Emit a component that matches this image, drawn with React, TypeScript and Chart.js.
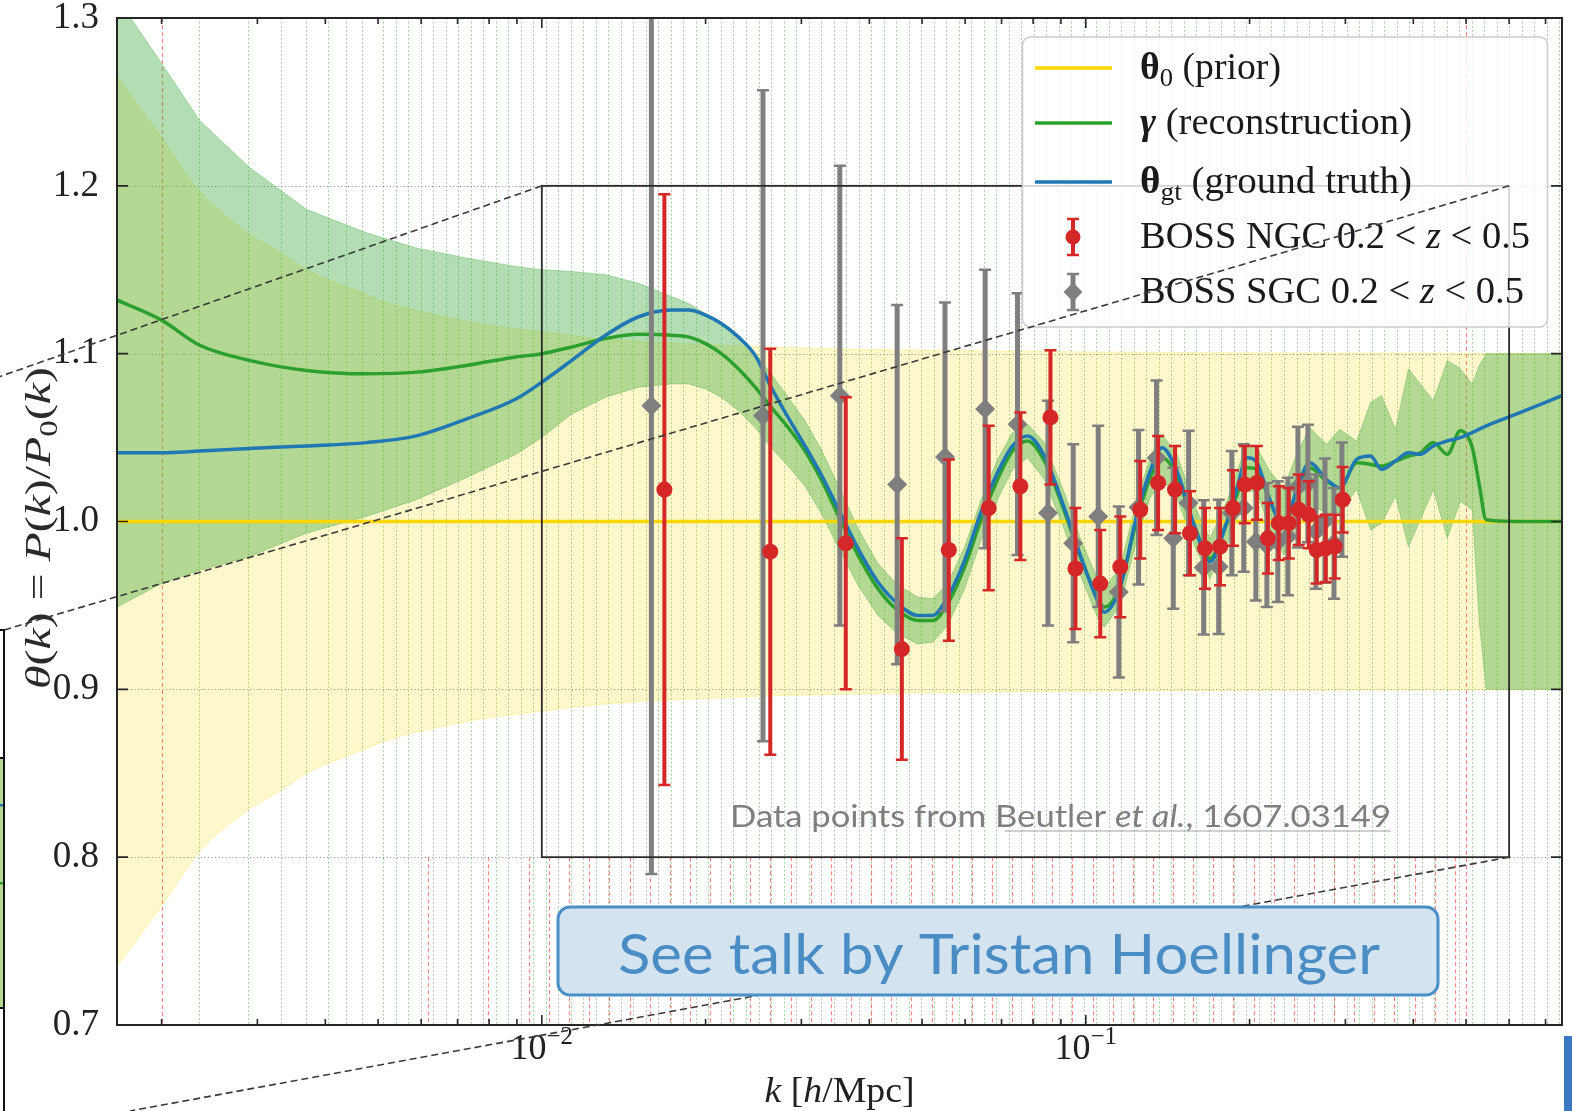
import React, { useEffect, useRef } from 'react';
import { Chart, registerables } from 'chart.js';

Chart.register(...registerables);

// ---------------- data ----------------
const kRange = [0.001656, 0.7505];
const yRange = [0.7, 1.3];
const yTicks = [0.7, 0.8, 0.9, 1.0, 1.1, 1.2, 1.3];
const yGrid = [0.8, 0.9, 1.0, 1.1, 1.2];
const xMajorTicks = [0.01, 0.1];
const xMajorExp = ['\u22122', '\u22121'];
const xMinorTicks = [0.002, 0.003, 0.004, 0.005, 0.006, 0.007, 0.008, 0.009, 0.02, 0.03, 0.04, 0.05, 0.06, 0.07, 0.08, 0.09, 0.2, 0.3, 0.4, 0.5, 0.6, 0.7];

// reconstruction / ground truth curves
const kCurve = [0.001656, 0.0020, 0.00235, 0.00290, 0.00369, 0.00476, 0.00588, 0.00726, 0.00896, 0.0100, 0.01135, 0.01310, 0.01506, 0.01731, 0.01860, 0.0200, 0.02138, 0.02297, 0.02467, 0.02640, 0.02836, 0.03047, 0.03262, 0.03502, 0.03812, 0.04148, 0.04513, 0.04911, 0.05232, 0.05572, 0.05988, 0.06405, 0.06881, 0.07333, 0.07815, 0.08393, 0.09134, 0.09770, 0.1050, 0.1081, 0.1157, 0.1243, 0.1313, 0.1381, 0.1471, 0.1581, 0.1691, 0.1817, 0.1896, 0.1978, 0.2063, 0.2179, 0.2311, 0.2442, 0.2579, 0.2772, 0.2929, 0.3146, 0.3338, 0.3497, 0.3709, 0.3918, 0.4121, 0.4353, 0.4619, 0.4880, 0.5134, 0.5287, 0.5445, 0.6180, 0.7505];
const thetaGt = [1.041, 1.041, 1.042, 1.0435, 1.045, 1.047, 1.051, 1.061, 1.073, 1.083, 1.096, 1.111, 1.122, 1.126, 1.126, 1.123, 1.118, 1.110, 1.099, 1.080, 1.062, 1.045, 1.028, 1.008, 0.984, 0.964, 0.951, 0.944, 0.944, 0.955, 0.977, 1.005, 1.029, 1.045, 1.051, 1.039, 1.008, 0.980, 0.953, 0.946, 0.961, 1.005, 1.030, 1.044, 1.030, 0.998, 0.976, 1.000, 1.020, 1.038, 1.035, 1.013, 0.997, 1.019, 1.035, 1.025, 1.020, 1.037, 1.039, 1.031, 1.036, 1.041, 1.040, 1.045, 1.048, 1.050, 1.053, 1.055, 1.057, 1.064, 1.075];
const gammaRec = [1.132, 1.120, 1.105, 1.096, 1.090, 1.088, 1.089, 1.093, 1.098, 1.100, 1.104, 1.109, 1.1115, 1.111, 1.110, 1.106, 1.100, 1.091, 1.080, 1.068, 1.056, 1.042, 1.025, 1.004, 0.980, 0.960, 0.947, 0.941, 0.941, 0.951, 0.973, 1.000, 1.025, 1.042, 1.048, 1.036, 1.006, 0.979, 0.955, 0.949, 0.962, 1.002, 1.026, 1.038, 1.027, 0.998, 0.978, 0.999, 1.016, 1.032, 1.031, 1.012, 0.998, 1.018, 1.032, 1.024, 1.020, 1.035, 1.034, 1.033, 1.036, 1.039, 1.041, 1.047, 1.040, 1.054, 1.044, 1.022, 1.001, 1.000, 1.000];
const gammaHi = [1.312, 1.273, 1.239, 1.211, 1.186, 1.172, 1.163, 1.157, 1.152, 1.150, 1.149, 1.147, 1.142, 1.134, 1.130, 1.124, 1.117, 1.110, 1.100, 1.088, 1.074, 1.060, 1.043, 1.022, 0.996, 0.975, 0.962, 0.955, 0.954, 0.963, 0.985, 1.012, 1.037, 1.053, 1.058, 1.047, 1.017, 0.990, 0.966, 0.960, 0.973, 1.014, 1.038, 1.052, 1.040, 1.010, 0.990, 1.012, 1.030, 1.046, 1.044, 1.030, 1.020, 1.040, 1.056, 1.046, 1.055, 1.048, 1.071, 1.075, 1.055, 1.091, 1.082, 1.072, 1.096, 1.091, 1.082, 1.093, 1.100, 1.100, 1.100];
const gammaLo = [0.949, 0.963, 0.971, 0.979, 0.993, 1.003, 1.013, 1.026, 1.040, 1.050, 1.064, 1.074, 1.080, 1.082, 1.082, 1.079, 1.074, 1.066, 1.056, 1.044, 1.033, 1.021, 1.005, 0.985, 0.962, 0.944, 0.933, 0.927, 0.928, 0.938, 0.960, 0.988, 1.013, 1.031, 1.038, 1.025, 0.995, 0.968, 0.943, 0.937, 0.950, 0.990, 1.014, 1.025, 1.014, 0.986, 0.966, 0.986, 1.002, 1.018, 1.018, 0.995, 0.980, 0.998, 1.010, 1.005, 1.005, 1.019, 0.995, 0.999, 1.015, 0.985, 1.001, 1.019, 0.990, 1.012, 1.007, 0.940, 0.900, 0.900, 0.900];

// prior band
const kPrior = [0.001656, 0.0020, 0.002331, 0.002878, 0.003322, 0.003693, 0.004052, 0.004696, 0.005220, 0.006180, 0.007962, 0.0100, 0.01272, 0.02574, 0.05186, 0.1050, 0.7505];
const priorLo = [0.735, 0.771, 0.802, 0.828, 0.840, 0.850, 0.856, 0.864, 0.870, 0.876, 0.883, 0.887, 0.891, 0.896, 0.898, 0.899, 0.900];
const priorHi = [1.265, 1.229, 1.198, 1.172, 1.160, 1.150, 1.144, 1.136, 1.130, 1.124, 1.117, 1.113, 1.109, 1.104, 1.102, 1.101, 1.100];
const priorLineK = [0.001656, 0.7505];
const priorLineVal = [1.0, 1.0];

// BOSS data points
const kNGC = [0.0168, 0.0263, 0.0362, 0.0459, 0.0560, 0.0663, 0.0758, 0.0861, 0.0957, 0.1063, 0.1157, 0.1259, 0.1358, 0.1459, 0.1554, 0.1656, 0.1765, 0.1864, 0.1960, 0.2063, 0.2161, 0.2263, 0.2361, 0.2463, 0.2569, 0.2657, 0.2761, 0.2868, 0.2966];
const ngcVal = [1.019, 0.982, 0.987, 0.924, 0.983, 1.008, 1.021, 1.062, 0.972, 0.963, 0.973, 1.007, 1.023, 1.019, 0.993, 0.984, 0.985, 1.008, 1.022, 1.023, 0.990, 0.999, 0.999, 1.007, 1.004, 0.983, 0.984, 0.985, 1.013];
const ngcErr = [0.176, 0.121, 0.087, 0.066, 0.054, 0.049, 0.044, 0.040, 0.036, 0.032, 0.030, 0.029, 0.028, 0.026, 0.025, 0.024, 0.023, 0.0225, 0.023, 0.022, 0.021, 0.022, 0.021, 0.021, 0.020, 0.020, 0.020, 0.019, 0.0195];
const kSGC = [0.0159, 0.0255, 0.0353, 0.0450, 0.0551, 0.0653, 0.0749, 0.0852, 0.0948, 0.1054, 0.1150, 0.1250, 0.1349, 0.1448, 0.1545, 0.1647, 0.1755, 0.1855, 0.1951, 0.2054, 0.2152, 0.2254, 0.2352, 0.2454, 0.2560, 0.2648, 0.2752, 0.2859, 0.2957];
const sgcVal = [1.069, 1.063, 1.075, 1.022, 1.0385, 1.067, 1.058, 1.005, 0.987, 1.003, 0.958, 1.0085, 1.038, 0.990, 1.011, 0.9726, 0.973, 1.005, 1.008, 0.988, 0.986, 0.988, 0.991, 1.0205, 1.0227, 0.994, 1.0005, 0.987, 1.013];
const sgcErr = [0.279, 0.194, 0.137, 0.107, 0.092, 0.083, 0.078, 0.067, 0.059, 0.054, 0.051, 0.046, 0.046, 0.042, 0.043, 0.040, 0.040, 0.037, 0.038, 0.035, 0.037, 0.036, 0.035, 0.036, 0.035, 0.034, 0.037, 0.033, 0.034];

// decorations (k positions)
const redFullK = [0.002, 0.5];
const kBinsSmall = [0.00234, 0.00288, 0.00331, 0.00369, 0.00405, 0.00437, 0.00468];
const redShortSmall = [0.00617, 0.00796];
const insetK = [0.01, 0.6];
const insetY = [0.8, 1.2];

// ---------------- styles ----------------
const SERIF = '"Liberation Serif", "DejaVu Serif", serif';
const SANS = 'Lato, "Open Sans", sans-serif';
const C_GOLD = '#FFD700';
const C_GREEN = '#2ca02c';
const C_BLUE = '#1f77b4';
const C_RED = '#d62728';
const C_GRAY = '#7f7f7f';
const AX = '#262626';

const fontOf = (s: any) => `${s.style || 'normal'} ${s.weight || 'normal'} ${s.size}px ${s.family || SERIF}`;

function drawRich(ctx: any, segs: any[], x: number, y: number, opts: any = {}) {
  let natural = 0;
  for (const s of segs) { ctx.font = fontOf(s); natural += ctx.measureText(s.t).width; }
  const sx = opts.width ? opts.width / natural : 1;
  const total = natural * sx;
  let x0 = x;
  if (opts.align === 'center') x0 = x - total / 2;
  else if (opts.align === 'right') x0 = x - total;
  ctx.save();
  ctx.translate(x0, y);
  ctx.scale(sx, 1);
  ctx.textAlign = 'left';
  ctx.textBaseline = 'alphabetic';
  ctx.fillStyle = opts.color || '#1a1a1a';
  let cx = 0;
  for (const s of segs) {
    ctx.font = fontOf(s);
    ctx.fillText(s.t, cx, s.dy || 0);
    cx += ctx.measureText(s.t).width;
  }
  ctx.restore();
}

function diamond(ctx: any, x: number, y: number, r: number) {
  ctx.beginPath();
  ctx.moveTo(x - r, y); ctx.lineTo(x, y - r); ctx.lineTo(x + r, y); ctx.lineTo(x, y + r);
  ctx.closePath();
  ctx.fill();
}

function errBar(ctx: any, px: number, top: number, bot: number, color: string, w: number, cap: number) {
  ctx.strokeStyle = color;
  ctx.lineWidth = w;
  ctx.beginPath(); ctx.moveTo(px, top); ctx.lineTo(px, bot); ctx.stroke();
  ctx.lineWidth = 2.5;
  ctx.beginPath();
  ctx.moveTo(px - cap, top); ctx.lineTo(px + cap, top);
  ctx.moveTo(px - cap, bot); ctx.lineTo(px + cap, bot);
  ctx.stroke();
}

const errorSpec: any = {
  NGC: { k: kNGC, v: ngcVal, e: ngcErr, color: C_RED, w: 4, cap: 6 },
  SGC: { k: kSGC, v: sgcVal, e: sgcErr, color: C_GRAY, w: 5, cap: 6 },
};

const overlay = {
  id: 'overlay',
  beforeDatasetsDraw(chart: any) {
    const { ctx, chartArea: a, scales: { x, y } } = chart;
    ctx.save();
    ctx.beginPath(); ctx.rect(a.left, a.top, a.right - a.left, a.bottom - a.top); ctx.clip();
    // green dotted k-grid
    const kb: number[] = [...kBinsSmall];
    let kk = 0.01017;
    while (kk > 0.0049) { kk /= Math.pow(10, 0.023); }
    kk *= Math.pow(10, 0.023);
    while (kk < kRange[1]) { kb.push(kk); kk *= Math.pow(10, 0.023); }
    ctx.strokeStyle = 'rgba(44,160,44,0.55)';
    ctx.lineWidth = 1;
    ctx.setLineDash([1.5, 2.5]);
    ctx.beginPath();
    for (const k of kb) { const px = Math.round(x.getPixelForValue(k)) + 0.5; ctx.moveTo(px, a.top); ctx.lineTo(px, a.bottom); }
    ctx.stroke();
    // red dashed lines
    ctx.strokeStyle = 'rgba(255,70,70,0.65)';
    ctx.lineWidth = 1.2;
    ctx.setLineDash([4, 3]);
    ctx.beginPath();
    for (const k of redFullK) { const px = Math.round(x.getPixelForValue(k)) + 0.5; ctx.moveTo(px, a.top); ctx.lineTo(px, a.bottom); }
    const rs: number[] = [...redShortSmall];
    let kr = 0.00947;
    while (kr < 0.49) { rs.push(kr); kr *= Math.pow(10, 0.0370); }
    const y08 = y.getPixelForValue(insetY[0]);
    for (const k of rs) { const px = Math.round(x.getPixelForValue(k)) + 0.5; ctx.moveTo(px, y08); ctx.lineTo(px, a.bottom); }
    ctx.stroke();
    // horizontal dotted grid
    ctx.strokeStyle = 'rgba(90,90,90,0.7)';
    ctx.lineWidth = 1;
    ctx.setLineDash([1, 2.5]);
    ctx.beginPath();
    for (const v of yGrid) { const py = Math.round(y.getPixelForValue(v)) + 0.5; ctx.moveTo(a.left, py); ctx.lineTo(a.right, py); }
    ctx.stroke();
    ctx.restore();
  },
  beforeDatasetDraw(chart: any, args: any) {
    const ds = chart.data.datasets[args.index];
    const spec = errorSpec[ds.label];
    if (!spec) return;
    const { ctx, chartArea: a, scales: { x, y } } = chart;
    ctx.save();
    ctx.beginPath(); ctx.rect(a.left, a.top, a.right - a.left, a.bottom - a.top); ctx.clip();
    spec.k.forEach((k: number, i: number) => {
      const px = x.getPixelForValue(k);
      errBar(ctx, px, y.getPixelForValue(spec.v[i] + spec.e[i]), y.getPixelForValue(spec.v[i] - spec.e[i]), spec.color, spec.w, spec.cap);
    });
    ctx.restore();
  },
  afterDatasetsDraw(chart: any) {
    const { ctx, chartArea: a, scales: { x, y } } = chart;
    ctx.save();
    // inset box
    ctx.strokeStyle = '#2a2a2a';
    ctx.lineWidth = 1.8;
    const bx0 = x.getPixelForValue(insetK[0]), bx1 = x.getPixelForValue(insetK[1]);
    const byT = y.getPixelForValue(insetY[1]), byB = y.getPixelForValue(insetY[0]);
    ctx.strokeRect(bx0, byT, bx1 - bx0, byB - byT);
    // frame
    ctx.strokeStyle = AX;
    ctx.lineWidth = 2;
    ctx.strokeRect(a.left, a.top, a.right - a.left, a.bottom - a.top);
    // ticks (inward)
    ctx.lineWidth = 1.6;
    ctx.beginPath();
    for (const k of xMajorTicks) { const px = x.getPixelForValue(k); ctx.moveTo(px, a.bottom); ctx.lineTo(px, a.bottom - 10); ctx.moveTo(px, a.top); ctx.lineTo(px, a.top + 10); }
    for (const k of xMinorTicks) { const px = x.getPixelForValue(k); ctx.moveTo(px, a.bottom); ctx.lineTo(px, a.bottom - 6); ctx.moveTo(px, a.top); ctx.lineTo(px, a.top + 6); }
    for (const v of yTicks) { const py = y.getPixelForValue(v); ctx.moveTo(a.left, py); ctx.lineTo(a.left + 11, py); ctx.moveTo(a.right, py); ctx.lineTo(a.right - 11, py); }
    ctx.stroke();
    ctx.restore();
  },
  afterDraw(chart: any) {
    const { ctx, chartArea: a, scales: { x, y } } = chart;
    ctx.save();
    // x tick labels 10^-2, 10^-1
    xMajorTicks.forEach((k, i) => {
      drawRich(ctx, [{ t: '10', size: 36 }, { t: xMajorExp[i], size: 25, dy: -15 }], x.getPixelForValue(k), a.bottom + 34, { align: 'center', color: '#222' });
    });
    // x title
    drawRich(ctx, [{ t: 'k', size: 36, style: 'italic' }, { t: ' [', size: 36 }, { t: 'h', size: 36, style: 'italic' }, { t: '/Mpc]', size: 36 }], (a.left + a.right) / 2, 1102, { align: 'center', width: 150, color: '#222' });
    // y title (rotated)
    ctx.save();
    ctx.translate(50, 528);
    ctx.rotate(-Math.PI / 2);
    drawRich(ctx, [
      { t: '\u03b8', size: 36, style: 'italic' }, { t: '(', size: 36 }, { t: 'k', size: 36, style: 'italic' }, { t: ') = ', size: 36 },
      { t: 'P', size: 36, style: 'italic' }, { t: '(', size: 36 }, { t: 'k', size: 36, style: 'italic' }, { t: ')/', size: 36 },
      { t: 'P', size: 36, style: 'italic' }, { t: '0', size: 25, dy: 7 }, { t: '(', size: 36 }, { t: 'k', size: 36, style: 'italic' }, { t: ')', size: 36 },
    ], 0, 0, { align: 'center', width: 322, color: '#2a2a2a' });
    ctx.restore();

    // legend
    const L = { x: 1022.5, y: 37, w: 525, h: 290, hx0: 1035, hx1: 1112, tx: 1140, rows: [68, 123, 182, 237, 292] };
    ctx.fillStyle = 'rgba(255,255,255,0.8)';
    ctx.strokeStyle = '#cccccc';
    ctx.lineWidth = 1.5;
    ctx.beginPath(); ctx.roundRect(L.x, L.y, L.w, L.h, 8); ctx.fill(); ctx.stroke();
    const lineCols = [C_GOLD, C_GREEN, C_BLUE];
    lineCols.forEach((c, i) => {
      ctx.strokeStyle = c; ctx.lineWidth = 3.5;
      ctx.beginPath(); ctx.moveTo(L.hx0, L.rows[i]); ctx.lineTo(L.hx1, L.rows[i]); ctx.stroke();
    });
    const hxm = (L.hx0 + L.hx1) / 2 - 0.5;
    errBar(ctx, hxm, L.rows[3] - 18, L.rows[3] + 18, C_RED, 4, 6);
    ctx.fillStyle = C_RED; ctx.beginPath(); ctx.arc(hxm, L.rows[3], 7.5, 0, Math.PI * 2); ctx.fill();
    errBar(ctx, hxm, L.rows[4] - 18, L.rows[4] + 18, C_GRAY, 5, 6);
    ctx.fillStyle = C_GRAY; diamond(ctx, hxm, L.rows[4], 9.5);
    const S = 37, SUB = 26;
    drawRich(ctx, [{ t: '\u03b8', size: S, weight: 'bold' }, { t: '0', size: SUB, dy: 7 }, { t: ' (prior)', size: S }], L.tx, L.rows[0] + 11, { width: 141 });
    drawRich(ctx, [{ t: '\u03b3', size: S, weight: 'bold', style: 'italic' }, { t: ' (reconstruction)', size: S }], L.tx, L.rows[1] + 11, { width: 272 });
    drawRich(ctx, [{ t: '\u03b8', size: S, weight: 'bold' }, { t: 'gt', size: SUB, dy: 7 }, { t: ' (ground truth)', size: S }], L.tx, L.rows[2] + 11, { width: 272 });
    drawRich(ctx, [{ t: 'BOSS NGC 0.2 < ', size: S }, { t: 'z', size: S, style: 'italic' }, { t: ' < 0.5', size: S }], L.tx, L.rows[3] + 11, { width: 390 });
    drawRich(ctx, [{ t: 'BOSS SGC 0.2 < ', size: S }, { t: 'z', size: S, style: 'italic' }, { t: ' < 0.5', size: S }], L.tx, L.rows[4] + 11, { width: 384 });

    // annotation text
    drawRich(ctx, [{ t: 'Data points from Beutler ', size: 30, family: SANS }, { t: 'et al.', size: 30, family: SANS, style: 'italic' }, { t: ', 1607.03149', size: 30, family: SANS }], 730, 827, { width: 661, color: '#7f7f7f' });
    ctx.strokeStyle = 'rgba(150,150,150,0.45)'; ctx.lineWidth = 2;
    ctx.beginPath(); ctx.moveTo(1005, 831); ctx.lineTo(1391, 831); ctx.stroke();

    // zoom connector lines (slide overlay)
    const bx0 = x.getPixelForValue(insetK[0]), bx1 = x.getPixelForValue(insetK[1]);
    const byT = y.getPixelForValue(insetY[1]), byB = y.getPixelForValue(insetY[0]);
    ctx.strokeStyle = '#3a3a3a'; ctx.lineWidth = 1.6; ctx.setLineDash([7, 4]);
    ctx.beginPath();
    ctx.moveTo(bx0, byT); ctx.lineTo(0, 376.5);
    ctx.moveTo(bx1, byT); ctx.lineTo(4, 630);
    ctx.moveTo(bx1, byB); ctx.lineTo(130, 1111);
    ctx.stroke();
    ctx.setLineDash([]);

    // callout
    ctx.fillStyle = '#d3e3f0'; ctx.strokeStyle = '#4a8fc8'; ctx.lineWidth = 3;
    ctx.beginPath(); ctx.roundRect(558, 907, 880, 88, 12); ctx.fill(); ctx.stroke();
    drawRich(ctx, [{ t: 'See talk by Tristan Hoellinger', size: 56, family: SANS }], 999, 974, { align: 'center', width: 762, color: '#4a8cc4' });

    // partial neighbouring figure at left edge
    ctx.fillStyle = 'rgb(179,216,146)'; ctx.fillRect(0, 758, 3, 250);
    ctx.fillStyle = C_BLUE; ctx.fillRect(0, 804, 3, 2.5);
    ctx.fillStyle = C_GREEN; ctx.fillRect(0, 882, 3, 2.5);
    ctx.strokeStyle = '#111'; ctx.lineWidth = 2;
    ctx.beginPath();
    ctx.moveTo(0, 630); ctx.lineTo(4, 630); ctx.lineTo(4, 1111);
    ctx.moveTo(0, 758); ctx.lineTo(4, 758);
    ctx.moveTo(0, 1008); ctx.lineTo(4, 1008);
    ctx.stroke();
    // blue slide element bottom right
    ctx.fillStyle = '#3b78c4'; ctx.fillRect(1564, 1036, 8, 75);
    ctx.restore();
  },
};

export default function App() {
  const ref = useRef<HTMLCanvasElement | null>(null);
  useEffect(() => {
    if (!ref.current) return;
    const pts = (ks: number[], vs: number[]) => ks.map((k, i) => ({ x: k, y: vs[i] }));
    const chart = new Chart(ref.current, {
      type: 'line',
      data: {
        datasets: [
          { label: 'priorHi', data: pts(kPrior, priorHi), fill: '+1', backgroundColor: 'rgba(255,215,0,0.2)', borderColor: 'rgba(255,215,0,0.25)', borderWidth: 1, pointRadius: 0, cubicInterpolationMode: 'monotone', order: 9 },
          { label: 'priorLo', data: pts(kPrior, priorLo), fill: false, borderColor: 'rgba(255,215,0,0.25)', borderWidth: 1, pointRadius: 0, cubicInterpolationMode: 'monotone', order: 8 },
          { label: 'gammaHi', data: pts(kCurve, gammaHi), fill: '+1', backgroundColor: 'rgba(44,160,44,0.36)', borderColor: 'rgba(44,160,44,0.3)', borderWidth: 1, pointRadius: 0, tension: 0, order: 7 },
          { label: 'gammaLo', data: pts(kCurve, gammaLo), fill: false, borderColor: 'rgba(44,160,44,0.3)', borderWidth: 1, pointRadius: 0, tension: 0, order: 6 },
          { label: 'prior', data: pts(priorLineK, priorLineVal), borderColor: C_GOLD, borderWidth: 3.5, pointRadius: 0, fill: false, order: 5 },
          { label: 'gamma', data: pts(kCurve, gammaRec), borderColor: C_GREEN, borderWidth: 3.5, pointRadius: 0, fill: false, cubicInterpolationMode: 'monotone', order: 4 },
          { label: 'theta_gt', data: pts(kCurve, thetaGt), borderColor: C_BLUE, borderWidth: 3.5, pointRadius: 0, fill: false, cubicInterpolationMode: 'monotone', order: 3 },
          { type: 'scatter', label: 'SGC', data: pts(kSGC, sgcVal), pointStyle: 'rectRot', pointRadius: 10, backgroundColor: C_GRAY, borderWidth: 0, order: 2 } as any,
          { type: 'scatter', label: 'NGC', data: pts(kNGC, ngcVal), pointStyle: 'circle', pointRadius: 8, backgroundColor: C_RED, borderWidth: 0, order: 1 } as any,
        ],
      },
      options: {
        animation: false,
        responsive: false,
        events: [],
        layout: { padding: { left: 0, right: 6, top: 18, bottom: 0 } },
        plugins: { legend: { display: false }, tooltip: { enabled: false } },
        scales: {
          x: {
            type: 'logarithmic', min: kRange[0], max: kRange[1],
            afterBuildTicks: (s: any) => { s.ticks = [...xMinorTicks, ...xMajorTicks].sort((p, q) => p - q).map((v) => ({ value: v })); },
            afterFit: (s: any) => { s.height = 86; s.paddingLeft = 0; s.paddingRight = 0; },
            grid: { display: false }, border: { display: false }, ticks: { display: false },
          },
          y: {
            type: 'linear', min: yRange[0], max: yRange[1],
            afterBuildTicks: (s: any) => { s.ticks = yTicks.map((v) => ({ value: v })); },
            afterFit: (s: any) => { s.width = 117; s.paddingTop = 0; s.paddingBottom = 0; },
            grid: { display: false }, border: { display: false },
            ticks: { font: { family: SERIF, size: 37 }, color: '#222', padding: 10, callback: (v: any) => Number(v).toFixed(1) },
          },
        } as any,
      },
      plugins: [overlay as any],
    } as any);
    return () => chart.destroy();
  }, []);
  return (
    <div style={{ position: 'fixed', left: 0, top: 0, width: 1572, height: 1111, background: '#ffffff' }}>
      <canvas ref={ref} width={1572} height={1111} style={{ display: 'block' }} />
    </div>
  );
}
